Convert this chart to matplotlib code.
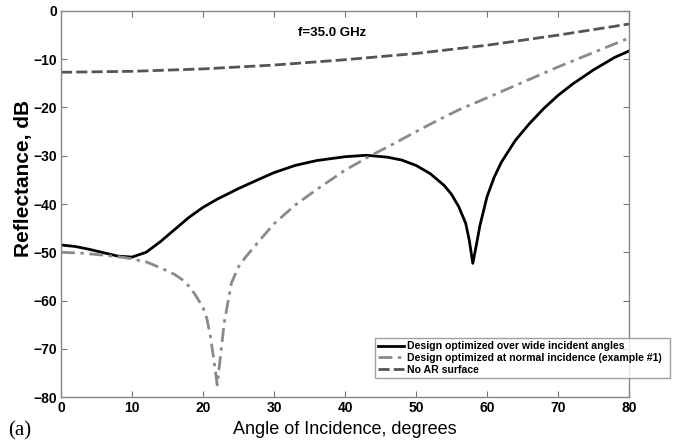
import matplotlib
matplotlib.use("Agg")
import matplotlib.pyplot as plt
from matplotlib import font_manager

# ---- data ----
ang_wide = [0, 2, 4, 6, 8, 10, 12, 14, 16, 18, 20, 22, 25, 28, 30, 33, 36, 40, 43, 46, 48, 50,
            52, 54, 55, 56, 57, 57.5, 58, 58.5, 59, 60, 61, 62, 64, 66, 68, 70, 72, 75, 78, 80]
ref_wide = [-48.5, -48.8, -49.4, -50.1, -50.8, -51.0, -50.0, -47.8, -45.3, -42.8, -40.7, -39.0,
            -36.8, -34.8, -33.5, -32.0, -31.0, -30.2, -29.9, -30.3, -30.9, -32.0, -33.7, -36.2,
            -38.0, -40.5, -44.0, -47.5, -52.3, -48.5, -44.5, -38.5, -34.5, -31.4, -26.8, -23.3,
            -20.2, -17.5, -15.2, -12.2, -9.6, -8.3]

ang_norm = [0, 3, 6, 9, 12, 14, 16, 17, 18, 19, 20, 20.5, 21, 21.5, 22, 22.5, 23, 24, 25, 26,
            28, 30, 33, 36, 40, 43.6, 47, 50, 53, 56, 60, 65, 70, 75, 80]
ref_norm = [-50.0, -50.2, -50.6, -51.1, -52.0, -53.2, -54.6, -55.6, -57.0, -59.0, -61.5, -63.5,
            -67.0, -72.0, -77.5, -71.0, -64.5, -56.4, -53.0, -51.0, -47.5, -44.1, -40.2, -37.0,
            -33.0, -30.0, -27.4, -25.0, -22.7, -20.5, -18.0, -14.8, -11.6, -8.6, -5.6]

ang_noar = [0, 10, 20, 30, 40, 50, 60, 70, 80]
ref_noar = [-12.7, -12.5, -12.0, -11.2, -10.1, -8.8, -7.1, -5.0, -2.7]

labels = ["Design optimized over wide incident angles",
          "Design optimized at normal incidence (example #1)",
          "No AR surface"]
xticks = list(range(0, 81, 10))
yticks = list(range(-80, 1, 10))

installed = {f.name for f in font_manager.fontManager.ttflist}
narrow = "Liberation Sans Narrow" if "Liberation Sans Narrow" in installed else "Liberation Sans"

fig = plt.figure(figsize=(6.75, 4.4), dpi=100)
ax = fig.add_axes([61/675, 1-397/440, (629-61)/675, (397-11)/440])

ax.plot(ang_wide, ref_wide, color="black", lw=2.0, label=labels[0])
ax.plot(ang_norm, ref_norm, color="#8a8a8a", lw=2.0, linestyle=(0, (5, 2, 1.2, 2)), label=labels[1])
ax.plot(ang_noar, ref_noar, color="#555555", lw=2.0, linestyle=(0, (4, 1.5)), label=labels[2])

ax.set_xlim(0, 80)
ax.set_ylim(-80, 0)
ax.set_xticks(xticks)
ax.set_yticks(yticks)
ax.tick_params(direction="in", top=True, right=True, length=4, width=0.8, color="#777777",
               labelsize=10, pad=3)
for lab in ax.get_xticklabels() + ax.get_yticklabels():
    lab.set_fontfamily(narrow)
    lab.set_fontweight("bold")
for s in ax.spines.values():
    s.set_color("#888888")
    s.set_linewidth(1.0)

ax.set_ylabel("Reflectance, dB", fontsize=15, fontweight="bold", family="Liberation Sans")
ax.yaxis.set_label_coords(-0.05, 0.565)
ax.set_xlabel("Angle of Incidence, degrees", fontsize=13, family=narrow, labelpad=4)

ax.text(0.417, 0.935, "f=35.0 GHz", transform=ax.transAxes, fontsize=9.5, fontweight="bold",
        family="Liberation Sans")
fig.text(8/675, 1-435/440, "(a)", fontsize=15, family="Liberation Serif")

leg = ax.legend(loc="lower left", bbox_to_anchor=(0.553, 0.05, 0.52, 0.118), mode="expand",
                frameon=True, fancybox=False, borderaxespad=0, handlelength=2.4,
                handletextpad=0.3, labelspacing=0.15, borderpad=0.3,
                prop={"family": "Liberation Sans", "weight": "bold", "size": 7.6})
leg.get_frame().set_edgecolor("#888888")
leg.get_frame().set_linewidth(1.0)
leg.set_zorder(5)

fig.savefig("out.png", dpi=100)
